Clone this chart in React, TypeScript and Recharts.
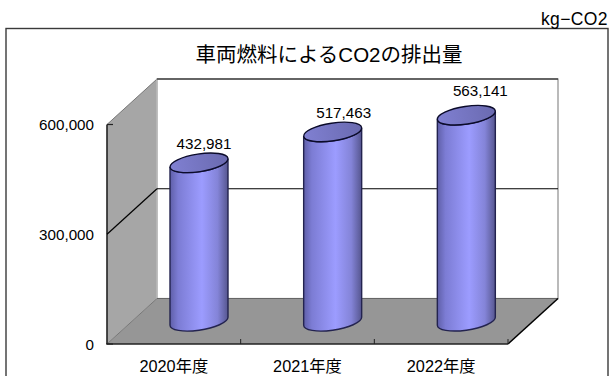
import React from "react";
import {
  Bar,
  BarChart,
  CartesianGrid,
  LabelList,
  XAxis,
  YAxis,
  usePlotArea,
} from "recharts";

// Emissions by fiscal year, kg-CO2
const fiscalYears = ["2020年度", "2021年度", "2022年度"];
const emissions = [432981, 517463, 563141];
const valueTicks = [0, 300000, 600000];
const chartTitle = "車両燃料によるCO2の排出量";
const unitLabel = "kg−CO2";

const rows = fiscalYears.map((year, i) => ({ year, emissions: emissions[i] }));

const WIDTH = 609;
const HEIGHT = 376;
const FONT = '"Liberation Sans", "Noto Sans CJK JP", sans-serif';

// Oblique offset between the front plane and the back wall
const DEPTH_X = 50;
const DEPTH_Y = -45.5;

// Hand-placed data label offsets, per bar, from the centre of the cap
const LABEL_SHIFT = [
  { dx: 5, dy: -19 },
  { dx: 11, dy: -19 },
  { dx: 14, dy: -25 },
];

// Tilted cap ellipse, expressed relative to half the bar width
const TILT_DEG = -8.65;
const CAP_A = 1.01;
const CAP_B = 0.305;
const CAP_SLOPE = 0.138;

function Room() {
  const plot = usePlotArea();
  if (!plot) return null;
  const left = plot.x;
  const right = plot.x + plot.width;
  const top = plot.y;
  const bottom = plot.y + plot.height;
  const backLeft = left + DEPTH_X;
  const backRight = right + DEPTH_X;
  const backTop = top + DEPTH_Y;
  const backBottom = bottom + DEPTH_Y;
  return (
    <g>
      <rect x={6} y={28.5} width={602} height={380} fill="#fff" stroke="#3a3a3a" strokeWidth={1.4} />
      <rect x={backLeft} y={backTop} width={plot.width} height={plot.height} fill="#fff" stroke="#8c8c8c" strokeWidth={1.2} />
      <polygon
        points={`${left},${bottom} ${left},${top} ${backLeft},${backTop} ${backLeft},${backBottom}`}
        fill="#a6a6a6"
      />
      <polygon
        points={`${left},${bottom} ${backLeft},${backBottom} ${backRight},${backBottom} ${right},${bottom}`}
        fill="#969696"
      />
      <line x1={left} y1={top} x2={backLeft} y2={backTop} stroke="#777" strokeWidth={1} />
      <line x1={left} y1={bottom} x2={backLeft} y2={backBottom} stroke="#777" strokeWidth={1} />
      <line x1={backLeft} y1={backTop} x2={backLeft} y2={backBottom} stroke="#c4c4c4" strokeWidth={1} />
      <line x1={backLeft} y1={backTop} x2={backRight} y2={backTop} stroke="#111" strokeWidth={1.2} />
      <line x1={backLeft} y1={backBottom} x2={backRight} y2={backBottom} stroke="#666" strokeWidth={1} />
      <line x1={right} y1={bottom} x2={backRight} y2={backBottom} stroke="#000" strokeWidth={1.5} />
      <line x1={left} y1={top} x2={left} y2={bottom} stroke="#222" strokeWidth={1.6} />
      <line x1={left - 0.8} y1={bottom} x2={right} y2={bottom} stroke="#222" strokeWidth={1.6} />
      <text x={329} y={62} textAnchor="middle" fontFamily={FONT} fontSize={20.5} fill="#000">
        {chartTitle}
      </text>
      <text x={608} y={25} textAnchor="end" fontFamily={FONT} fontSize={17.5} letterSpacing={0.4} fill="#000">
        {unitLabel}
      </text>
    </g>
  );
}

function DepthGridLine(props: any) {
  const { x1, x2, y1, key } = props;
  return (
    <g key={key}>
      <line x1={x1} y1={y1} x2={x1 + DEPTH_X} y2={y1 + DEPTH_Y} stroke="#000" strokeWidth={1.2} />
      <line x1={x1 + DEPTH_X} y1={y1 + DEPTH_Y} x2={x2 + DEPTH_X} y2={y1 + DEPTH_Y} stroke="#000" strokeWidth={1.2} />
    </g>
  );
}

function Cylinder(props: any) {
  const { x, y, width, height } = props;
  const half = width / 2;
  const left = x + DEPTH_X / 2;
  const right = left + width;
  const cx = left + half;
  const topY = y + DEPTH_Y / 2;
  const baseY = y + height + DEPTH_Y / 2;
  const a = half * CAP_A;
  const b = half * CAP_B;
  const lift = half * CAP_SLOPE;
  const body = [
    `M${left},${topY + lift}`,
    `L${left},${baseY + lift}`,
    `A${a},${b} ${TILT_DEG} 0 0 ${right},${baseY - lift}`,
    `L${right},${topY - lift}`,
    `A${a},${b} ${TILT_DEG} 0 1 ${left},${topY + lift}`,
    "Z",
  ].join(" ");
  return (
    <g>
      <path d={body} fill="url(#cylinderSide)" stroke="#23234f" strokeWidth={1.4} />
      <ellipse
        cx={cx}
        cy={topY}
        rx={a}
        ry={b}
        transform={`rotate(${TILT_DEG} ${cx} ${topY})`}
        fill="url(#cylinderCap)"
        stroke="#0b0b2a"
        strokeWidth={1.4}
      />
    </g>
  );
}

function ValueLabel(props: any) {
  const { x, y, width, value, index } = props;
  const shift = LABEL_SHIFT[index];
  return (
    <text
      x={x + width / 2 + DEPTH_X / 2 + shift.dx}
      y={y + DEPTH_Y / 2 + shift.dy}
      textAnchor="middle"
      dominantBaseline="central"
      fontFamily={FONT}
      fontSize={15.2}
      fill="#000"
    >
      {Number(value).toLocaleString("en-US")}
    </text>
  );
}

function ValueTick(props: any) {
  const { x, y, payload } = props;
  const isMiddle = payload.value === valueTicks[1];
  return (
    <g>
      {!isMiddle && <line x1={x} y1={y} x2={x + 6} y2={y} stroke="#222" strokeWidth={1.2} />}
      <text x={x - 13} y={y} textAnchor="end" dominantBaseline="central" fontFamily={FONT} fontSize={15.2} fill="#000">
        {Number(payload.value).toLocaleString("en-US")}
      </text>
    </g>
  );
}

function YearTick(props: any) {
  const { x, y, payload, width } = props;
  const band = width / fiscalYears.length;
  const edge = x + band / 2;
  return (
    <g>
      <line x1={edge} y1={y - 5} x2={edge} y2={y} stroke="#222" strokeWidth={1} />
      <text x={x} y={y + 22} textAnchor="middle" dominantBaseline="central" fontFamily={FONT} fontSize={16.3} fill="#000">
        {payload.value}
      </text>
    </g>
  );
}

export default function App() {
  return (
    <div style={{ position: "absolute", left: 0, top: 0, width: WIDTH, height: HEIGHT, background: "#fff" }}>
      <BarChart
        width={WIDTH}
        height={HEIGHT}
        data={rows}
        margin={{ top: 124.5, right: 101, bottom: 8, left: 47 }}
        barCategoryGap={0}
      >
        <defs>
          <linearGradient id="cylinderSide" x1="0" y1="0" x2="1" y2="0">
            <stop offset="0" stopColor="#5f5fa8" />
            <stop offset="0.14" stopColor="#7c7cd4" />
            <stop offset="0.55" stopColor="#9c9cff" />
            <stop offset="0.82" stopColor="#8484d8" />
            <stop offset="1" stopColor="#56568f" />
          </linearGradient>
          <linearGradient id="cylinderCap" x1="0" y1="0" x2="1" y2="0">
            <stop offset="0" stopColor="#8080d2" />
            <stop offset="1" stopColor="#6a6ab0" />
          </linearGradient>
        </defs>
        <Room />
        <CartesianGrid
          horizontalValues={[valueTicks[1]]}
          vertical={false}
          horizontal={DepthGridLine as any}
          stroke="#000"
          {...({ zIndex: 100 } as any)}
        />
        <XAxis
          dataKey="year"
          height={24}
          axisLine={false}
          tickLine={false}
          tickSize={0}
          tickMargin={0}
          interval={0}
          tick={YearTick as any}
        />
        <YAxis
          width={60}
          domain={[0, 600000]}
          ticks={valueTicks}
          axisLine={false}
          tickLine={false}
          tickSize={0}
          tickMargin={0}
          tick={ValueTick as any}
        />
        <Bar dataKey="emissions" barSize={58} isAnimationActive={false} shape={Cylinder as any}>
          <LabelList dataKey="emissions" content={ValueLabel as any} />
        </Bar>
      </BarChart>
    </div>
  );
}
